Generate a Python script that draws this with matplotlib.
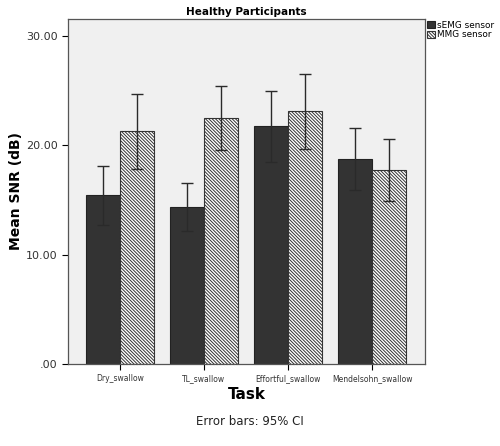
import matplotlib
matplotlib.use('Agg')
import matplotlib.pyplot as plt
import numpy as np

tasks = ['Dry_swallow', 'TL_swallow', 'Effortful_swallow', 'Mendelsohn_swallow']
semg_mean = [15.46, 14.39, 21.71, 18.76]
semg_lo = [12.70, 12.14, 18.50, 15.92]
semg_hi = [18.14, 16.56, 24.91, 21.56]
mmg_mean = [21.29, 22.53, 23.11, 17.75]
mmg_lo = [17.84, 19.60, 19.64, 14.94]
mmg_hi = [24.70, 25.43, 26.50, 20.52]
yticks = [0, 10, 20, 30]
ytick_labels = ['.00', '10.00', '20.00', '30.00']

plt.rcParams['hatch.linewidth'] = 0.7
plt.rcParams['hatch.color'] = '#333333'

fig = plt.figure(figsize=(5.0, 4.46), dpi=100)
ax = fig.add_axes([0.136, 0.184, 0.714, 0.774])
ax.set_facecolor('#f0f0f0')

x = np.arange(len(tasks))
w = 0.405

semg_err = [np.array(semg_mean) - np.array(semg_lo), np.array(semg_hi) - np.array(semg_mean)]
mmg_err = [np.array(mmg_mean) - np.array(mmg_lo), np.array(mmg_hi) - np.array(mmg_mean)]

ax.bar(x - w / 2, semg_mean, w, color='#333333', edgecolor='#222222', linewidth=0.8,
       label='sEMG sensor')
ax.bar(x + w / 2, mmg_mean, w, color='white', edgecolor='#333333', linewidth=0.8,
       hatch='\\' * 10, label='MMG sensor')
ax.errorbar(x - w / 2, semg_mean, yerr=semg_err, fmt='none', ecolor='#2a2a2a',
            elinewidth=1.0, capsize=4, capthick=1.0)
ax.errorbar(x + w / 2, mmg_mean, yerr=mmg_err, fmt='none', ecolor='#2a2a2a',
            elinewidth=1.0, capsize=4, capthick=1.0)

ax.set_xlim(-0.619, 3.63)
ax.set_ylim(0, 31.56)
ax.set_yticks(yticks)
ax.set_yticklabels(ytick_labels, fontsize=8, color='#333333')
ax.set_xticks(x)
ax.set_xticklabels(tasks, fontsize=5.5, color='#333333')
ax.tick_params(axis='y', length=4, width=0.8)
ax.tick_params(axis='x', length=4, width=0.8, pad=3)
for s in ax.spines.values():
    s.set_color('#555555')
    s.set_linewidth(0.9)

ax.set_title('Healthy Participants', fontsize=7.5, fontweight='bold', pad=3)
ax.set_ylabel('Mean SNR (dB)', fontsize=10, fontweight='bold', labelpad=2)
ax.set_xlabel('Task', fontsize=11, fontweight='bold', labelpad=3)

ax.legend(loc='upper left', bbox_to_anchor=(1.0, 1.0), frameon=False, fontsize=6.4,
          handlelength=0.9, handleheight=0.9, handletextpad=0.3, borderaxespad=0.2,
          labelspacing=0.1, borderpad=0.0)

fig.text(0.5, 0.055, 'Error bars: 95% CI', ha='center', va='center', fontsize=8.5,
         color='#222222')

plt.savefig('out.png', dpi=100)
